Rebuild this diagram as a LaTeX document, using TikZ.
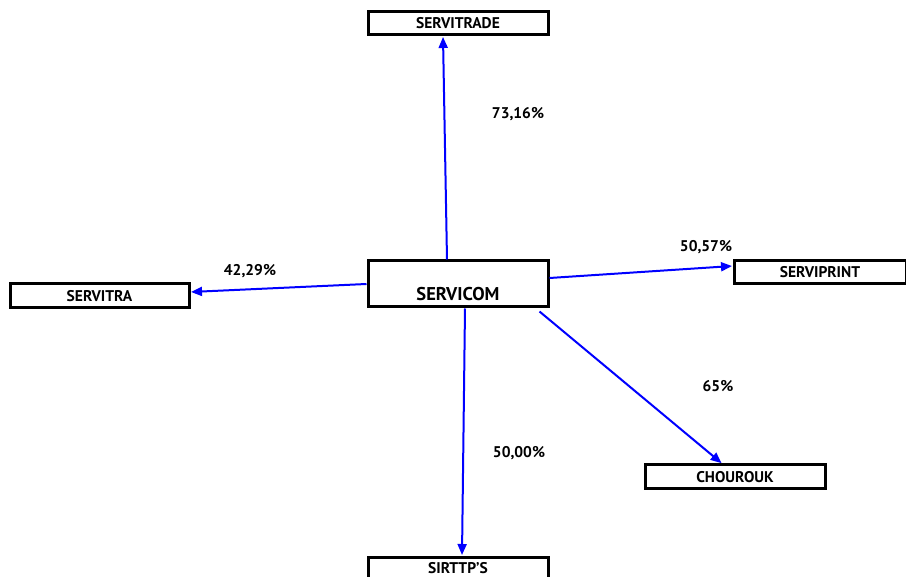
\documentclass[tikz,border=0pt]{standalone}
\usepackage{fontspec}
\setmainfont{PT Sans}
\usetikzlibrary{arrows.meta}
\definecolor{arrowblue}{RGB}{0,0,255}
\begin{document}
\begin{tikzpicture}[x=1pt,y=-1pt,
  box/.style={draw=black,line width=3pt,fill=white,inner sep=0pt,font=\bfseries\fontsize{15.5}{16}\selectfont},
  pct/.style={font=\bfseries\fontsize{15.5}{16}\selectfont,inner sep=0pt},
  link/.style={draw=arrowblue,line width=2pt,-{Triangle[width=9pt,length=11pt]},shorten >=0.5pt}]
\useasboundingbox (0,0) rectangle (906,577);
\clip (0,0) rectangle (906,577);
\node[box,minimum width=180pt,minimum height=23pt] (servitrade) at (458,23.5) {SERVITRADE};
\node[box,minimum width=180pt,minimum height=46pt] (servicom) at (458,284) {};
\node[font=\bfseries\fontsize{18.5}{19}\selectfont,inner sep=0pt] (servicomtext) at (458,294) {SERVICOM};
\node[box,minimum width=172pt,minimum height=23pt] (serviprint) at (820,272.5) {SERVIPRINT};
\node[box,minimum width=179pt,minimum height=24pt] (servitra) at (99.5,296) {SERVITRA};
\node[box,minimum width=180pt,minimum height=24pt] (chourouk) at (735,477) {CHOUROUK};
\node[box,minimum width=180pt,minimum height=30pt] (sirttps) at (458,572) {};
\node[font=\bfseries\fontsize{15.5}{16}\selectfont,inner sep=0pt] (sirttpstext) at (458,568) {SIRTTP'S};
\draw[link] ([xshift=-11pt]servicom.north) -- ([xshift=-15pt]servitrade.south);
\draw[link] (servicom.west) -- ([yshift=4pt]servitra.east);
\draw[link] ([yshift=6pt]servicom.east) -- ([yshift=6.5pt]serviprint.west);
\draw[link] ([xshift=7pt]servicom.south) -- ([xshift=4pt]sirttps.north);
\draw[link] ([xshift=-10pt,yshift=-3pt]servicom.south east) -- ([xshift=-13pt]chourouk.north);
\node[pct] (p1) at (518,114) {73,16\%};
\node[pct] (p2) at (250,271) {42,29\%};
\node[pct] (p3) at (706,247) {50,57\%};
\node[pct] (p4) at (718,386) {65\%};
\node[pct] (p5) at (519,453) {50,00\%};
\end{tikzpicture}
\end{document}
